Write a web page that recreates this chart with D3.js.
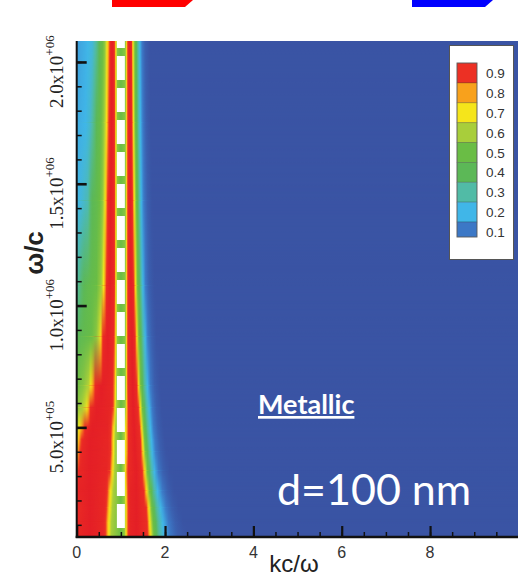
<!DOCTYPE html>
<html>
<head>
<meta charset="utf-8">
<script src="https://cdn.jsdelivr.net/npm/d3@7"></script>
<style>
body { margin: 0; background: #fff; }
svg { display: block; }
</style>
</head>
<body>
<svg id="chart" width="518" height="576"></svg>
<script>
var rowOmega = [2.086e6, 1.75e6, 1.43e6, 1.08e6, 0.87e6, 0.67e6, 0.58e6, 0.5e6, 0.45e6, 0.4e6, 0.32e6, 0.24e6, 0.17e6, 0.11e6, 0.05e6];
var rowProfiles = [
  [[0,0.16],[0.2,0.19],[0.35,0.22],[0.45,0.32],[0.55,0.45],[0.63,0.55],[0.68,0.68],[0.72,0.8],[0.76,0.93],[0.8,1.0],[0.85,0.92],[0.88,0.75],[0.92,0.55],[1.0,0.5],[1.1,0.55],[1.13,0.75],[1.16,0.92],[1.2,1.0],[1.24,0.92],[1.27,0.72],[1.32,0.5],[1.38,0.32],[1.43,0.2],[1.48,0.1],[1.55,0.03],[1.65,0]],
  [[0,0.18],[0.2,0.2],[0.3,0.24],[0.4,0.35],[0.5,0.45],[0.6,0.55],[0.66,0.66],[0.7,0.8],[0.74,0.93],[0.79,1.0],[0.85,0.93],[0.88,0.75],[0.92,0.55],[1.0,0.5],[1.1,0.55],[1.13,0.75],[1.16,0.92],[1.21,1.0],[1.25,0.92],[1.28,0.72],[1.33,0.5],[1.39,0.32],[1.44,0.2],[1.5,0.1],[1.57,0.03],[1.67,0]],
  [[0,0.2],[0.1,0.22],[0.25,0.28],[0.32,0.38],[0.45,0.45],[0.58,0.55],[0.63,0.66],[0.67,0.8],[0.71,0.93],[0.77,1.0],[0.85,0.93],[0.88,0.75],[0.92,0.55],[1.0,0.5],[1.1,0.55],[1.13,0.75],[1.16,0.92],[1.22,1.0],[1.26,0.92],[1.3,0.72],[1.35,0.5],[1.41,0.32],[1.46,0.2],[1.52,0.1],[1.6,0.03],[1.7,0]],
  [[0,0.3],[0.12,0.38],[0.25,0.44],[0.45,0.5],[0.55,0.58],[0.6,0.68],[0.64,0.8],[0.68,0.93],[0.75,1.0],[0.85,0.93],[0.88,0.75],[0.92,0.55],[1.0,0.5],[1.1,0.55],[1.13,0.75],[1.16,0.92],[1.23,1.0],[1.29,0.92],[1.33,0.72],[1.38,0.5],[1.45,0.32],[1.5,0.2],[1.56,0.1],[1.64,0.03],[1.75,0]],
  [[0,0.38],[0.1,0.43],[0.3,0.48],[0.44,0.55],[0.52,0.66],[0.56,0.8],[0.6,0.93],[0.7,1.0],[0.84,0.93],[0.88,0.75],[0.92,0.55],[1.0,0.5],[1.1,0.55],[1.13,0.75],[1.16,0.92],[1.25,1.0],[1.32,0.92],[1.36,0.72],[1.41,0.5],[1.49,0.32],[1.55,0.2],[1.61,0.1],[1.7,0.03],[1.8,0]],
  [[0,0.5],[0.15,0.55],[0.27,0.62],[0.32,0.7],[0.37,0.8],[0.43,0.93],[0.55,1.0],[0.8,0.95],[0.86,0.8],[0.9,0.6],[1.0,0.5],[1.1,0.55],[1.13,0.75],[1.16,0.92],[1.27,1.0],[1.36,0.92],[1.4,0.72],[1.45,0.5],[1.53,0.32],[1.6,0.2],[1.67,0.1],[1.76,0.03],[1.88,0]],
  [[0,0.55],[0.12,0.6],[0.22,0.68],[0.27,0.8],[0.32,0.93],[0.45,1.0],[0.78,0.96],[0.84,0.85],[0.89,0.62],[1.0,0.5],[1.1,0.57],[1.13,0.76],[1.17,0.92],[1.28,1.0],[1.39,0.92],[1.44,0.72],[1.49,0.5],[1.57,0.32],[1.64,0.2],[1.71,0.1],[1.8,0.03],[1.92,0]],
  [[0,0.62],[0.06,0.7],[0.12,0.8],[0.2,0.93],[0.35,1.0],[0.7,0.97],[0.78,0.9],[0.83,0.75],[0.88,0.6],[1.0,0.5],[1.08,0.6],[1.13,0.78],[1.18,0.93],[1.3,1.0],[1.42,0.92],[1.47,0.72],[1.52,0.5],[1.6,0.32],[1.67,0.2],[1.74,0.1],[1.84,0.03],[1.96,0]],
  [[0,0.68],[0.05,0.78],[0.1,0.88],[0.16,0.95],[0.3,1.0],[0.7,0.96],[0.77,0.9],[0.82,0.75],[0.87,0.6],[1.0,0.5],[1.08,0.6],[1.13,0.78],[1.18,0.93],[1.31,1.0],[1.44,0.92],[1.49,0.72],[1.54,0.5],[1.62,0.32],[1.69,0.2],[1.77,0.1],[1.87,0.03],[1.99,0]],
  [[0,0.75],[0.05,0.85],[0.12,0.95],[0.3,1.0],[0.7,0.96],[0.77,0.9],[0.82,0.75],[0.87,0.6],[1.0,0.5],[1.08,0.6],[1.13,0.78],[1.18,0.93],[1.32,1.0],[1.45,0.92],[1.5,0.72],[1.56,0.5],[1.64,0.32],[1.71,0.2],[1.79,0.1],[1.9,0.03],[2.02,0]],
  [[0,0.85],[0.06,0.95],[0.3,1.0],[0.68,0.96],[0.75,0.9],[0.8,0.75],[0.86,0.6],[1.0,0.5],[1.08,0.62],[1.12,0.8],[1.17,0.93],[1.35,1.0],[1.48,0.92],[1.54,0.72],[1.6,0.5],[1.68,0.32],[1.76,0.2],[1.85,0.1],[1.96,0.03],[2.1,0]],
  [[0,0.9],[0.05,0.97],[0.3,1.0],[0.64,0.95],[0.7,0.88],[0.76,0.72],[0.83,0.6],[1.0,0.5],[1.08,0.58],[1.12,0.74],[1.16,0.9],[1.22,0.97],[1.35,1.0],[1.52,0.92],[1.58,0.72],[1.65,0.5],[1.74,0.32],[1.83,0.2],[1.94,0.1],[2.06,0.03],[2.2,0]],
  [[0,0.93],[0.3,1.0],[0.62,0.95],[0.68,0.88],[0.74,0.72],[0.81,0.6],[1.0,0.5],[1.08,0.56],[1.12,0.72],[1.16,0.88],[1.22,0.97],[1.35,1.0],[1.57,0.92],[1.63,0.72],[1.7,0.5],[1.8,0.32],[1.9,0.2],[2.02,0.1],[2.15,0.03],[2.3,0]],
  [[0,0.94],[0.3,1.0],[0.6,0.95],[0.66,0.88],[0.72,0.72],[0.79,0.6],[1.0,0.5],[1.08,0.56],[1.12,0.72],[1.16,0.88],[1.22,0.97],[1.35,1.0],[1.59,0.92],[1.65,0.72],[1.73,0.5],[1.84,0.32],[1.95,0.2],[2.08,0.1],[2.23,0.03],[2.4,0]],
  [[0,0.95],[0.3,1.0],[0.6,0.95],[0.66,0.88],[0.72,0.72],[0.78,0.6],[1.0,0.5],[1.08,0.56],[1.12,0.72],[1.16,0.88],[1.22,0.97],[1.35,1.0],[1.6,0.92],[1.67,0.72],[1.75,0.5],[1.86,0.32],[1.98,0.2],[2.12,0.1],[2.28,0.03],[2.5,0]]
];

var legendLevels = [0.9, 0.8, 0.7, 0.6, 0.5, 0.4, 0.3, 0.2, 0.1];
var xTickValues = [0, 2, 4, 6, 8];
var yTickValues = [0.5e6, 1.0e6, 1.5e6, 2.0e6];
var yTickMant = ['5.0x10', '1.0x10', '1.5x10', '2.0x10'];
var yTickExp = ['+05', '+06', '+06', '+06'];

var svg = d3.select('#chart');

var x = d3.scaleLinear().domain([0, 10]).range([76.7, 518.4]);
var y = d3.scaleLinear().domain([0.05e6, 2.086e6]).range([537, 41]);

var color = d3.scaleLinear()
    .domain([0, 0.1, 0.2, 0.3, 0.4, 0.5, 0.6, 0.7, 0.8, 0.9, 1])
    .range(['#3a54a4', '#3c78c6', '#40b6e8', '#51bba6', '#5cb857', '#6abd45', '#a8ce3b', '#f5e51b', '#f8a11c', '#ec3024', '#e41f26'])
    .clamp(true);

var kMax = 2.6;
var plotTop = y.range()[1], plotBot = y.range()[0];
var plotL = x.range()[0], plotR = x.range()[1];
var plotW = plotR - plotL;

// top decorations (cropped arrows)
svg.append('path').attr('d', 'M112,0H193L185,7H112Z').attr('fill', '#ff0000');
svg.append('path').attr('d', 'M412,0H493L485,7H412Z').attr('fill', '#0000ff');

var defs = svg.append('defs');
defs.append('clipPath').attr('id', 'plotClip')
  .append('rect')
    .attr('x', plotL).attr('y', plotTop)
    .attr('width', plotW).attr('height', plotBot - plotTop);

// one horizontal gradient per sampled row
rowProfiles.forEach(function(prof, i) {
    var grad = defs.append('linearGradient')
        .attr('id', 'row' + i)
        .attr('gradientUnits', 'userSpaceOnUse')
        .attr('x1', x(0)).attr('x2', x(kMax))
        .attr('y1', 0).attr('y2', 0);
    var stops = [];
    for (var j = 0; j < prof.length - 1; j++) {
        var a = prof[j], b = prof[j + 1];
        for (var s = 0; s < 6; s++) {
            var t = s / 6;
            stops.push([a[0] + (b[0] - a[0]) * t, a[1] + (b[1] - a[1]) * t]);
        }
    }
    stops.push(prof[prof.length - 1]);
    grad.selectAll('stop').data(stops).enter().append('stop')
        .attr('offset', function(d) { return d[0] / kMax; })
        .attr('stop-color', function(d) { return color(d[1]); });
});

var field = svg.append('g').attr('clip-path', 'url(#plotClip)');
field.append('rect')
    .attr('x', plotL).attr('y', plotTop)
    .attr('width', plotW).attr('height', plotBot - plotTop)
    .attr('fill', color(0));

// between two sampled rows: lower row underneath, upper row on top fading out
var n = rowOmega.length;
for (var i = 0; i < n - 1; i++) {
    var y0 = y(rowOmega[i]), y1 = y(rowOmega[i + 1]);
    var fg = defs.append('linearGradient').attr('id', 'fadeGrad' + i)
        .attr('gradientUnits', 'userSpaceOnUse')
        .attr('x1', 0).attr('x2', 0).attr('y1', y0).attr('y2', y1);
    fg.append('stop').attr('offset', 0).attr('stop-color', '#fff');
    fg.append('stop').attr('offset', 1).attr('stop-color', '#000');
    defs.append('mask').attr('id', 'fade' + i)
        .attr('maskUnits', 'userSpaceOnUse')
        .attr('x', plotL - 5).attr('y', y0 - 2).attr('width', plotW + 10).attr('height', y1 - y0 + 4)
      .append('rect')
        .attr('x', plotL - 5).attr('y', y0 - 2).attr('width', plotW + 10).attr('height', y1 - y0 + 4)
        .attr('fill', 'url(#fadeGrad' + i + ')');

    field.append('rect')
        .attr('x', plotL).attr('y', y0 - 0.5)
        .attr('width', plotW).attr('height', y1 - y0 + 1)
        .attr('fill', 'url(#row' + (i + 1) + ')');
    field.append('rect')
        .attr('x', plotL).attr('y', y0 - 0.5)
        .attr('width', plotW).attr('height', y1 - y0 + 1)
        .attr('fill', 'url(#row' + i + ')')
        .attr('mask', 'url(#fade' + i + ')');
}

// light line kc/w = 1 (white dashes)
field.append('line')
    .attr('x1', x(1)).attr('x2', x(1))
    .attr('y1', plotTop).attr('y2', plotBot)
    .attr('stroke', '#fff').attr('stroke-width', 8)
    .attr('stroke-dasharray', '24 8').attr('stroke-dashoffset', 17);

// axes, ticks pointing into the plot
function styleAxis(g, w) {
    g.select('.domain').remove();
    g.selectAll('.tick line').attr('stroke', '#111').attr('stroke-width', w);
    g.selectAll('.tick text').remove();
}
var gxMinor = svg.append('g').attr('transform', 'translate(0,' + plotBot + ')')
    .call(d3.axisBottom(x).tickValues(d3.range(0.5, 10, 0.5)).tickSize(-5).tickSizeOuter(0));
styleAxis(gxMinor, 1.5);
var gxMajor = svg.append('g').attr('transform', 'translate(0,' + plotBot + ')')
    .call(d3.axisBottom(x).tickValues(xTickValues).tickSize(-11).tickSizeOuter(0));
styleAxis(gxMajor, 2.2);

var gyMinor = svg.append('g').attr('transform', 'translate(' + plotL + ',0)')
    .call(d3.axisLeft(y).tickValues(d3.range(0.1e6, 2.05e6, 0.1e6)).tickSize(-5).tickSizeOuter(0));
styleAxis(gyMinor, 1.5);
var gyMajor = svg.append('g').attr('transform', 'translate(' + plotL + ',0)')
    .call(d3.axisLeft(y).tickValues(yTickValues).tickSize(-10).tickSizeOuter(0));
styleAxis(gyMajor, 2.6);

svg.append('line').attr('x1', plotL).attr('x2', plotL).attr('y1', plotTop).attr('y2', plotBot + 1)
    .attr('stroke', '#111').attr('stroke-width', 2);
svg.append('line').attr('x1', plotL - 1).attr('x2', plotR).attr('y1', plotBot).attr('y2', plotBot)
    .attr('stroke', '#111').attr('stroke-width', 2.5);

// tick labels
svg.selectAll('.xlab').data(xTickValues).enter().append('text')
    .attr('class', 'xlab')
    .attr('x', function(d) { return x(d); }).attr('y', 558)
    .attr('text-anchor', 'middle')
    .attr('font-family', 'Liberation Sans, Arial, sans-serif').attr('font-size', 16)
    .attr('fill', '#333')
    .text(function(d) { return d; });

svg.selectAll('.ylab').data(yTickValues).enter().append('text')
    .attr('class', 'ylab')
    .attr('transform', function(d) { return 'translate(63,' + (y(d) + 46) + ') rotate(-90)'; })
    .attr('font-family', 'Liberation Serif, Times New Roman, serif').attr('font-size', 19)
    .attr('fill', '#222')
    .each(function(d, i) {
        var t = d3.select(this);
        t.append('tspan').text(yTickMant[i]);
        t.append('tspan').attr('font-size', 13).attr('dy', -9).text(yTickExp[i]);
    });

// axis titles
svg.append('text')
    .attr('transform', 'translate(43,253) rotate(-90)')
    .attr('text-anchor', 'middle')
    .attr('font-family', 'Liberation Sans, Arial, sans-serif').attr('font-weight', 'bold').attr('font-size', 26)
    .attr('fill', '#222')
    .text('ω/c');
svg.append('text')
    .attr('x', 294).attr('y', 572)
    .attr('text-anchor', 'middle')
    .attr('font-family', 'Liberation Sans, Arial, sans-serif').attr('font-size', 24)
    .attr('fill', '#222')
    .text('kc/ω');

// legend
var legY = d3.scaleLinear().domain([0.9, 0.1]).range([73, 232]);
var leg = svg.append('g');
leg.append('rect').attr('x', 449.5).attr('y', 45.5).attr('width', 64).attr('height', 214)
    .attr('fill', '#fff').attr('stroke', '#555').attr('stroke-width', 1);
leg.selectAll('.band').data(legendLevels).enter().append('rect')
    .attr('x', 457).attr('width', 20)
    .attr('y', function(d) { return d === 0.9 ? 63 : legY(d + 0.05); })
    .attr('height', function(d) {
        var t = d === 0.9 ? 63 : legY(d + 0.05);
        var b = d === 0.1 ? 237 : legY(d - 0.05);
        return b - t;
    })
    .attr('fill', function(d) { return color(d); })
    .attr('stroke', 'rgba(0,0,0,0.25)').attr('stroke-width', 0.8);
leg.append('rect').attr('x', 457).attr('y', 63).attr('width', 20).attr('height', 174)
    .attr('fill', 'none').attr('stroke', '#666').attr('stroke-width', 0.8);
leg.selectAll('.llab').data(legendLevels).enter().append('text')
    .attr('x', 486).attr('y', function(d) { return legY(d) + 5; })
    .attr('font-family', 'Liberation Sans, Arial, sans-serif').attr('font-size', 13.5)
    .attr('fill', '#333')
    .text(function(d) { return d3.format('.1f')(d); });

// annotations
svg.append('text')
    .attr('x', 258).attr('y', 414)
    .attr('font-family', 'Lato, sans-serif').attr('font-weight', 'bold').attr('font-size', 27)
    .attr('fill', '#fff').attr('text-decoration', 'underline')
    .text('Metallic');
svg.append('text')
    .attr('x', 277).attr('y', 505)
    .attr('font-family', 'Lato, sans-serif').attr('font-size', 43)
    .attr('fill', '#fff')
    .text('d=100 nm');
</script>
</body>
</html>
